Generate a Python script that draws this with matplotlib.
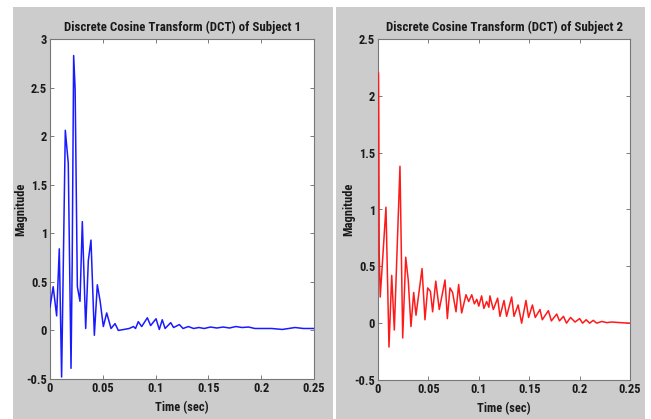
import matplotlib
matplotlib.use("Agg")
import matplotlib.pyplot as plt
from matplotlib.patches import Rectangle

plt.rcParams['font.family'] = ['Roboto Condensed', 'DejaVu Sans']

# subject 1 (blue)
t1 = [0.0, 0.003, 0.0063, 0.0088, 0.011, 0.0145, 0.0173, 0.0199, 0.021, 0.0224,
      0.0238, 0.0259, 0.0284, 0.0306, 0.0338, 0.0363, 0.0388, 0.042, 0.0448, 0.0475,
      0.0505, 0.0537, 0.0578, 0.0616, 0.0647, 0.070, 0.075, 0.079, 0.081, 0.0836,
      0.0868, 0.0922, 0.0953, 0.1004, 0.1035, 0.1063, 0.109, 0.1143, 0.117, 0.1225,
      0.126, 0.131, 0.136, 0.141, 0.146, 0.152, 0.158, 0.164, 0.170, 0.176,
      0.182, 0.188, 0.194, 0.200, 0.210, 0.220, 0.226, 0.232, 0.240, 0.250]
v1 = [0.24, 0.45, 0.15, 0.84, -0.48, 2.06, 1.72, -0.39, 0.68, 2.83,
      2.48, 0.45, 0.30, 1.12, 0.02, 0.72, 0.93, -0.05, 0.47, 0.30,
      0.04, 0.18, 0.02, 0.07, 0.00, 0.01, 0.02, 0.04, 0.02, 0.09,
      0.04, 0.13, 0.05, 0.12, 0.01, 0.11, 0.02, 0.08, 0.03, 0.06,
      0.02, 0.04, 0.02, 0.03, 0.02, 0.035, 0.025, 0.035, 0.025, 0.04,
      0.03, 0.035, 0.02, 0.02, 0.02, 0.01, 0.02, 0.03, 0.02, 0.02]

# subject 2 (red)
t2 = [0.0005, 0.0008, 0.0012, 0.0022, 0.0079, 0.0109, 0.0136, 0.0162, 0.0218, 0.0245,
      0.0275, 0.030, 0.0327, 0.0354, 0.0377, 0.0437, 0.0466, 0.0493, 0.052, 0.0542,
      0.0573, 0.0608, 0.0665, 0.0688, 0.0714, 0.074, 0.0774, 0.080, 0.083, 0.0873,
      0.090, 0.093, 0.0956, 0.098, 0.100, 0.1028, 0.105, 0.1078, 0.110, 0.111,
      0.1144, 0.1187, 0.121, 0.125, 0.1276, 0.1326, 0.1349, 0.139, 0.1425, 0.1468,
      0.1494, 0.1532, 0.156, 0.1607, 0.163, 0.169, 0.172, 0.1773, 0.180, 0.184,
      0.187, 0.191, 0.1955, 0.200, 0.203, 0.2065, 0.210, 0.2135, 0.217, 0.222,
      0.227, 0.232, 0.240, 0.250]
v2 = [2.2, 1.8, 0.62, 0.23, 1.02, -0.21, 0.42, -0.06, 1.38, -0.13,
      0.58, 0.38, -0.03, 0.27, 0.07, 0.48, 0.03, 0.31, 0.28, 0.10,
      0.37, 0.12, 0.38, 0.04, 0.31, 0.27, 0.10, 0.34, 0.09, 0.25,
      0.19, 0.25, 0.17, 0.21, 0.15, 0.24, 0.13, 0.19, 0.14, 0.24,
      0.12, 0.22, 0.06, 0.20, 0.06, 0.23, 0.06, 0.16, 0.00, 0.20,
      0.05, 0.16, 0.05, 0.12, 0.03, 0.11, 0.02, 0.08, 0.02, 0.06,
      0.00, 0.05, 0.01, 0.04, 0.00, 0.03, 0.00, 0.025, 0.00, 0.015,
      0.005, 0.01, 0.005, 0.0]

x_ticks = [0, 0.05, 0.1, 0.15, 0.2, 0.25]
x_ticklabels = ['0', '0.05', '0.1', '0.15', '0.2', '0.25']
y1_ticks = [-0.5, 0, 0.5, 1, 1.5, 2, 2.5, 3]
y1_ticklabels = ['-0.5', '0', '0.5', '1', '1.5', '2', '2.5', '3']
y2_ticks = [-0.5, 0, 0.5, 1, 1.5, 2, 2.5]
y2_ticklabels = ['-0.5', '0', '0.5', '1', '1.5', '2', '2.5']

W, H = 651, 419
fig = plt.figure(figsize=(W / 100, H / 100), dpi=100, facecolor='white')

# grey window backgrounds (two screenshots side by side)
gray = '#cccccc'
fig.patches.append(Rectangle((13 / W, 0), (333 - 13) / W, (H - 7) / H,
                             transform=fig.transFigure, facecolor=gray,
                             edgecolor='none', zorder=-10))
fig.patches.append(Rectangle((336 / W, 0), (645 - 336) / W, (H - 7) / H,
                             transform=fig.transFigure, facecolor=gray,
                             edgecolor='none', zorder=-10))


def style_axis(ax, yticks, yticklabels, ylim, title, ylab_x):
    ax.set_facecolor('white')
    ax.set_xlim(0, 0.25)
    ax.set_ylim(*ylim)
    ax.set_xticks(x_ticks)
    ax.set_xticklabels(x_ticklabels)
    ax.set_yticks(yticks)
    ax.set_yticklabels(yticklabels)
    ax.tick_params(direction='in', length=3, width=0.6, top=True, right=True,
                   labelsize=9, pad=2, colors='#666666', labelcolor='#1a1a1a')
    for lab in ax.get_xticklabels() + ax.get_yticklabels():
        lab.set_fontweight('bold')
    for sp in ax.spines.values():
        sp.set_color('#777777')
        sp.set_linewidth(0.8)
    ax.set_title(title, fontsize=9.3, fontweight='bold', color='#1a1a1a', pad=6)
    ax.set_xlabel('Time (sec)', fontsize=9, fontweight='bold', color='#1a1a1a')
    ax.xaxis.set_label_coords(0.5, -0.065)
    ax.set_ylabel('Magnitude', fontsize=9, fontweight='bold', color='#1a1a1a')
    ax.yaxis.set_label_coords(ylab_x, 0.5)


ax1 = fig.add_axes([50 / W, (H - 379) / H, 264 / W, 340 / H])
ax1.plot(t1, v1, color='#1a1aff', linewidth=1.1, zorder=3)
style_axis(ax1, y1_ticks, y1_ticklabels, (-0.5, 3),
           'Discrete Cosine Transform (DCT) of Subject 1', -0.087)

ax2 = fig.add_axes([378 / W, (H - 380) / H, 252 / W, 341 / H])
ax2.plot(t2, v2, color='#ff1a1a', linewidth=1.1, zorder=3)
style_axis(ax2, y2_ticks, y2_ticklabels, (-0.5, 2.5),
           'Discrete Cosine Transform (DCT) of Subject 2', -0.091)

fig.savefig('out.png', dpi=100, facecolor=fig.get_facecolor())
